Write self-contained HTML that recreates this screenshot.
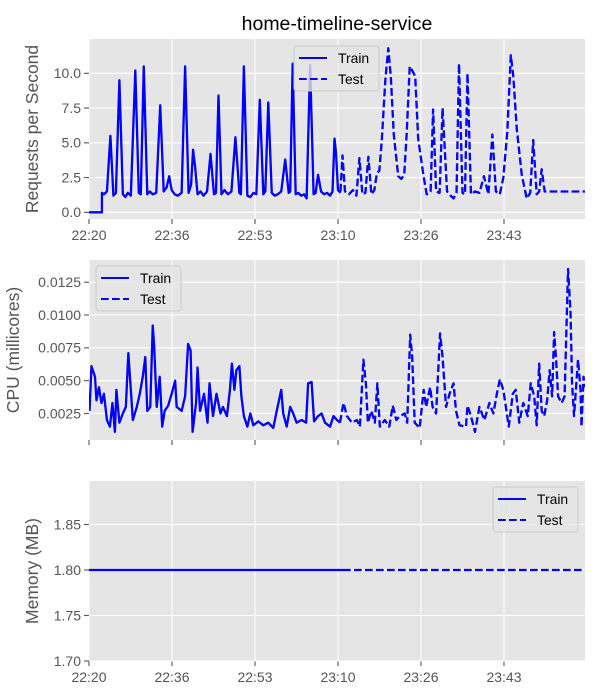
<!DOCTYPE html>
<html><head><meta charset="utf-8"><style>
html,body{margin:0;padding:0;background:#fff;}
svg{display:block;font-family:"Liberation Sans","DejaVu Sans",sans-serif;}
</style></head><body>
<svg id="chart" width="600" height="700" viewBox="0 0 600 700" xmlns="http://www.w3.org/2000/svg"></svg>
<script>
// ---- data (minutes after 22:20) ----
const xTickMinutes = [0, 16.667, 33.333, 50, 66.667, 83.333];
const xTickLabels = ["22:20", "22:36", "22:53", "23:10", "23:26", "23:43"];

const reqTrainT = [0,2.6,2.6,3.0,3.6,4.3,4.9,5.4,6.1,6.8,7.3,7.8,8.4,9.3,10.0,10.4,11.0,11.7,12.2,12.8,13.5,14.3,15.0,15.6,16.1,16.6,17.2,17.8,18.6,19.3,20.0,20.5,20.9,21.3,21.8,22.4,23.0,23.7,24.4,25.1,25.5,26.0,26.6,27.2,27.9,28.6,29.4,30.2,30.5,31.1,31.8,32.4,33.0,33.6,34.3,35.0,35.4,36.0,36.7,37.3,37.9,38.6,39.4,40.1,40.4,40.9,41.5,42.0,42.6,43.2,43.7,44.4,45.1,45.5,46.0,46.6,47.2,47.8,48.4,48.9,49.3,49.6,50.0,50.5];
const reqTrainV = [0,0,1.4,1.3,1.5,5.5,1.2,1.4,9.5,1.3,1.1,1.4,1.2,10.2,1.4,1.3,10.5,1.3,1.5,1.3,1.4,7.7,1.5,1.8,2.6,1.6,1.3,1.2,1.4,10.5,1.4,2.0,4.5,3.3,1.3,1.5,1.2,1.5,4.2,1.3,1.4,8.4,1.3,1.6,1.3,1.5,5.4,1.4,1.3,10.5,1.2,1.1,1.4,1.3,8.1,1.3,1.5,7.9,1.4,1.2,1.3,1.5,3.8,1.4,1.5,10.7,1.3,1.4,1.2,1.3,1.0,10.6,1.3,1.4,2.7,1.5,1.3,1.4,1.2,1.5,5.3,4.3,1.6,1.4];
const reqTestT = [50.5,50.9,51.4,52.2,53.0,53.7,54.3,54.9,55.5,56.1,56.7,57.3,57.8,58.3,58.8,59.5,60.1,60.6,61.2,62.1,62.7,63.3,63.8,64.4,64.9,65.5,66.1,67.1,67.8,68.6,69.1,69.7,70.4,71.0,71.9,72.6,73.2,73.8,74.3,75.0,75.5,76.0,76.7,77.5,78.4,79.3,80.2,81.0,81.7,82.5,83.2,84.0,84.7,85.2,85.9,86.9,87.9,88.6,89.2,89.9,90.4,90.9,91.5,99.6];
const reqTestV = [1.5,4.1,1.5,1.3,1.6,1.2,3.9,1.3,1.4,4.0,1.3,1.6,2.8,3.0,5.2,9.5,11.8,9.8,5.6,2.6,2.4,2.7,5.7,10.5,10.2,9.8,5.3,2.8,1.3,1.5,7.4,1.5,1.4,7.5,1.5,1.2,1.0,1.4,10.7,1.4,1.3,10.0,1.3,1.5,1.4,2.6,1.3,5.6,1.5,1.3,2.5,5.8,11.3,9.8,6.0,2.7,1.0,1.4,5.2,1.3,1.5,3.1,1.5,1.5];
const reqTicks = [0, 2.5, 5, 7.5, 10];
const reqTickLabels = ["0.0", "2.5", "5.0", "7.5", "10.0"];

const cpuTrainT = [0.1,0.5,1.2,1.5,2.0,2.5,3.0,3.6,4.2,4.7,5.2,5.5,6.1,6.8,7.4,7.9,8.4,8.8,9.6,10.2,10.8,11.3,11.7,12.3,12.8,13.1,13.6,14.2,14.7,15.2,15.9,16.6,17.3,17.6,18.6,19.3,19.9,20.4,20.8,21.5,21.8,22.3,23.1,23.8,24.2,24.9,25.6,26.4,26.9,27.7,28.3,28.7,29.2,29.6,30.2,30.6,31.1,31.8,32.4,33.0,34.0,35.0,36.0,37.0,37.7,38.6,39.0,39.7,40.4,41.0,41.7,42.7,43.6,44.0,44.7,45.2,46.0,46.7,47.4,48.4,49.1,49.8,50.4];
const cpuTrainV = [.0027,.0061,.0053,.0035,.0045,.0033,.0040,.0020,.0015,.0033,.0011,.0043,.0018,.0025,.0030,.0071,.0043,.0020,.0030,.0040,.0053,.0068,.0027,.0030,.0092,.0075,.0030,.0053,.0015,.0027,.0031,.0040,.0050,.0030,.0027,.0038,.0078,.0073,.0011,.0033,.0060,.0027,.0040,.0018,.0048,.0023,.0040,.0025,.0030,.0023,.0043,.0063,.0043,.0058,.0061,.0038,.0023,.0015,.0025,.0016,.0019,.0016,.0018,.0014,.0027,.0043,.0025,.0015,.0030,.0025,.0018,.0020,.0018,.0048,.0049,.0019,.0023,.0025,.0018,.0015,.0023,.0020,.0018];
const cpuTestT = [50.4,51.1,51.8,52.8,53.8,54.4,55.1,55.6,56.0,56.7,57.4,57.9,58.4,59.4,60.3,61.0,61.7,62.4,63.4,63.9,64.5,64.9,65.4,66.4,67.2,67.7,68.5,69.0,69.7,70.5,71.0,71.7,72.4,73.2,73.7,74.4,75.7,76.0,76.7,77.5,78.4,79.4,80.4,81.2,81.9,82.5,83.2,83.9,84.3,85.1,85.7,86.4,87.2,88.1,88.7,89.4,89.9,90.4,90.9,91.4,92.0,92.5,93.0,93.4,93.8,94.2,94.9,95.5,96.2,96.7,97.0,97.4,98.2,98.7,98.9,99.3,99.6];
const cpuTestV = [.0018,.0033,.0023,.0018,.0020,.0015,.0066,.0048,.0018,.0027,.0018,.0048,.0015,.0020,.0015,.0031,.0020,.0023,.0025,.0018,.0085,.0068,.0018,.0014,.0043,.0030,.0045,.0030,.0025,.0086,.0068,.0030,.0040,.0048,.0027,.0016,.0015,.0031,.0023,.0011,.0030,.0020,.0033,.0025,.0040,.0051,.0043,.0025,.0015,.0040,.0043,.0018,.0033,.0023,.0048,.0038,.0016,.0063,.0027,.0023,.0035,.0058,.0038,.0087,.0066,.0038,.0033,.0038,.0135,.0101,.0048,.0023,.0066,.0043,.0015,.0053,.0045];
const cpuTicks = [0.0025, 0.005, 0.0075, 0.01, 0.0125];
const cpuTickLabels = ["0.0025", "0.0050", "0.0075", "0.0100", "0.0125"];

const memTrainT = [0, 51];
const memTrainV = [1.8, 1.8];
const memTestT = [51, 99.6];
const memTestV = [1.8, 1.8];
const memTicks = [1.70, 1.75, 1.80, 1.85];
const memTickLabels = ["1.70", "1.75", "1.80", "1.85"];

// ---- rendering ----
const NS = "http://www.w3.org/2000/svg";
const svg = document.getElementById("chart");
function mk(tag, attrs, parent) {
  const e = document.createElementNS(NS, tag);
  for (const k in attrs) e.setAttribute(k, attrs[k]);
  (parent || svg).appendChild(e);
  return e;
}
const X0 = 89, X1 = 585, TMAX = 99.6;
function xScale(t) { return X0 + (t / TMAX) * (X1 - X0); }

const title = mk("text", {x: 337, y: 30, "text-anchor": "middle", "font-size": 19.5, fill: "#000"});


title.textContent = "home-timeline-service";

function panel(cfg) {
  const g = mk("g", {});
  
  
  const yS = v => cfg.bottom - (v - cfg.ymin) / (cfg.ymax - cfg.ymin) * (cfg.bottom - cfg.top);
  const bg = mk("rect", {x: X0, y: cfg.top, width: X1 - X0, height: cfg.bottom - cfg.top, fill: "#e5e5e5"}, g);
  
  
  xTickMinutes.forEach((t, i) => {
    const x = xScale(t);
    const gl = mk("line", {x1: x, x2: x, y1: cfg.top, y2: cfg.bottom, stroke: "#fff", "stroke-width": 1.1}, g);
    
    
    const tk = mk("line", {x1: x, x2: x, y1: cfg.bottom, y2: cfg.bottom + 5, stroke: "#555", "stroke-width": 1.1}, g);
    
    
    if (cfg.showX) {
      const lb = mk("text", {x: x, y: cfg.bottom + 21, "text-anchor": "middle", "font-size": 14, fill: "#555"}, g);
      
      
      lb.textContent = xTickLabels[i];
    }
  });
  cfg.ticks.forEach((v, i) => {
    const y = yS(v);
    const gl = mk("line", {x1: X0, x2: X1, y1: y, y2: y, stroke: "#fff", "stroke-width": 1.1}, g);
    
    
    const tk = mk("line", {x1: X0 - 5, x2: X0, y1: y, y2: y, stroke: "#555", "stroke-width": 1.1}, g);
    
    
    const lb = mk("text", {x: X0 - 8, y: y + 4.8, "text-anchor": "end", "font-size": 14, fill: "#555"}, g);
    
    
    lb.textContent = cfg.tickLabels[i];
  });
  const yl = mk("text", {x: 0, y: 0, "text-anchor": "middle", "font-size": 17.5, fill: "#555",
    transform: `translate(${cfg.ylx},${(cfg.top + cfg.bottom) / 2}) rotate(-90)`}, g);
  
  
  yl.textContent = cfg.ylabel;
  const cid = cfg.name + "-clip";
  const cp = mk("clipPath", {id: cid}, g);
  mk("rect", {x: X0, y: cfg.top, width: X1 - X0, height: cfg.bottom - cfg.top}, cp);
  function series(T, V, dashed, nm) {
    const d = T.map((t, i) => (i ? "L" : "M") + xScale(t).toFixed(2) + "," + yS(V[i]).toFixed(2)).join(" ");
    const p = mk("path", {d: d, fill: "none", stroke: "#0000ff", "stroke-width": 2.3, "stroke-linejoin": "round",
      "clip-path": `url(#${cid})`}, g);
    if (dashed) p.setAttribute("stroke-dasharray", "7.7,3.3");
    
    
  }
  series(cfg.trainT, cfg.trainV, false, 'train-line');
  series(cfg.testT, cfg.testV, true, 'test-line');
  const L = cfg.legend;
  const lg = mk("g", {}, g);
  
  
  mk("rect", {x: L.x, y: L.y, width: 85, height: 45, rx: 3, fill: "#e5e5e5", "fill-opacity": 0.8, stroke: "#cccccc", "stroke-width": 1}, lg);
  const e1 = mk("line", {x1: L.x + 5, x2: L.x + 33, y1: L.y + 12, y2: L.y + 12, stroke: "#0000ff", "stroke-width": 2}, lg);
  
  
  const t1 = mk("text", {x: L.x + 44, y: L.y + 17, "font-size": 13.9, fill: "#000"}, lg);
  
  
  t1.textContent = "Train";
  const e2 = mk("line", {x1: L.x + 5, x2: L.x + 33, y1: L.y + 33, y2: L.y + 33, stroke: "#0000ff", "stroke-width": 2, "stroke-dasharray": "7.7,3.3"}, lg);
  
  
  const t2 = mk("text", {x: L.x + 44, y: L.y + 38, "font-size": 13.9, fill: "#000"}, lg);
  
  
  t2.textContent = "Test";
}

panel({name: "requests-panel", top: 39, bottom: 219, ymin: -0.48, ymax: 12.47, ticks: reqTicks, tickLabels: reqTickLabels,
  ylabel: "Requests per Second", ylx: 38, showX: true, trainT: reqTrainT, trainV: reqTrainV, testT: reqTestT, testV: reqTestV,
  legend: {x: 294, y: 46}});
panel({name: "cpu-panel", top: 260, bottom: 440, ymin: 0.00048, ymax: 0.01419, ticks: cpuTicks, tickLabels: cpuTickLabels,
  ylabel: "CPU (millicores)", ylx: 19, showX: false, trainT: cpuTrainT, trainV: cpuTrainV, testT: cpuTestT, testV: cpuTestV,
  legend: {x: 96, y: 266}});
panel({name: "memory-panel", top: 481, bottom: 661, ymin: 1.70, ymax: 1.8978, ticks: memTicks, tickLabels: memTickLabels,
  ylabel: "Memory (MB)", ylx: 38, showX: true, trainT: memTrainT, trainV: memTrainV, testT: memTestT, testV: memTestV,
  legend: {x: 493, y: 487}});
</script>
</body></html>
